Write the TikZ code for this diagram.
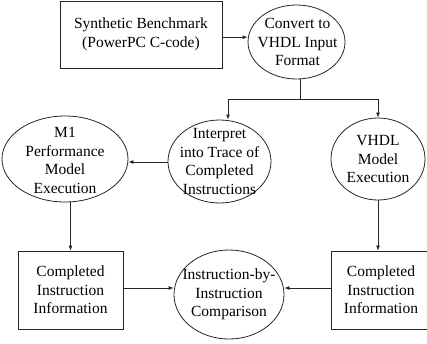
\documentclass[tikz,border=0pt]{standalone}
\usepackage{fontspec}
\setmainfont{Liberation Serif}
\usetikzlibrary{shapes.geometric,arrows.meta}
\tikzset{
  line/.style={draw=black!85, line width=0.8pt},
  arr/.style={line, -{Latex[length=5pt,width=4pt]}},
  boxnode/.style={line, rectangle, inner sep=0pt},
  ovalnode/.style={line, ellipse, inner sep=0pt},
  txt/.style={align=center, inner sep=0pt,
    font=\fontsize{15.5pt}{18.6pt}\selectfont},
}
\begin{document}
\begin{tikzpicture}[x=1pt,y=-1pt]
\useasboundingbox (0,0) rectangle (427,343);

% process boxes
\node[boxnode, minimum width=162pt, minimum height=67pt] (bench) at (141,34.5) {};
\node[boxnode, minimum width=105pt, minimum height=78pt] (ci1) at (70.5,290) {};
\node[boxnode, minimum width=120pt, minimum height=78pt] (ci2) at (391,290) {};

% process ovals
\node[ovalnode, minimum width=97pt,  minimum height=74pt] (conv)   at (296.5,42) {};
\node[ovalnode, minimum width=103pt, minimum height=83pt] (interp) at (219.5,161.5) {};
\node[ovalnode, minimum width=126pt, minimum height=86pt] (m1)     at (65,159) {};
\node[ovalnode, minimum width=94pt,  minimum height=82pt] (vhdl)   at (378,159) {};
\node[ovalnode, minimum width=110pt, minimum height=89pt] (cmp)    at (229,294.5) {};

% labels
\node[txt] (benchT)  at (bench)  {Synthetic Benchmark\\(PowerPC C-code)};
\node[txt] (convT)   at (297.5,42) {Convert to\\VHDL Input\\Format};
\node[txt] (interpT) at (interp) {Interpret\\into Trace of\\Completed\\Instructions};
\node[txt] (m1T)     at (65,160.5) {M1\\Performance\\Model\\Execution};
\node[txt] (vhdlT)   at (vhdl)   {VHDL\\Model\\Execution};
\node[txt] (ci1T)    at (ci1)    {Completed\\Instruction\\Information};
\node[txt] (ci2T)    at (381,290) {Completed\\Instruction\\Information};
\node[txt] (cmpT)    at (cmp)    {Instruction-by-\\Instruction\\Comparison};

% connectors
\draw[arr] ([yshift=-2.7pt]bench.east) -- ([yshift=-2.7pt]bench.east -| conv.west);

\coordinate (split) at (300,99);
\coordinate (splitL) at (228,99);
\coordinate (splitR) at (378,99);
\draw[line] (split |- conv.south) -- (split);
\draw[line] (splitL) -- (splitR);
\draw[arr] (splitL) -- (splitL |- interp.north);
\draw[arr] (splitR) -- (vhdl.north);

\draw[arr] ([yshift=-0.5pt]interp.west) -- ([yshift=-0.5pt]interp.west -| m1.east);
\draw[arr] (ci1.north |- m1.south) -- (ci1.north);
\draw[arr] (vhdl.south) -- (vhdl.south |- ci2.north);
\draw[arr] ([yshift=2pt]ci1.east) -- ([yshift=2pt]ci1.east -| cmp.west);
\draw[arr] ([yshift=2pt]ci2.west) -- ([yshift=2pt]ci2.west -| cmp.east);
\end{tikzpicture}
\end{document}
